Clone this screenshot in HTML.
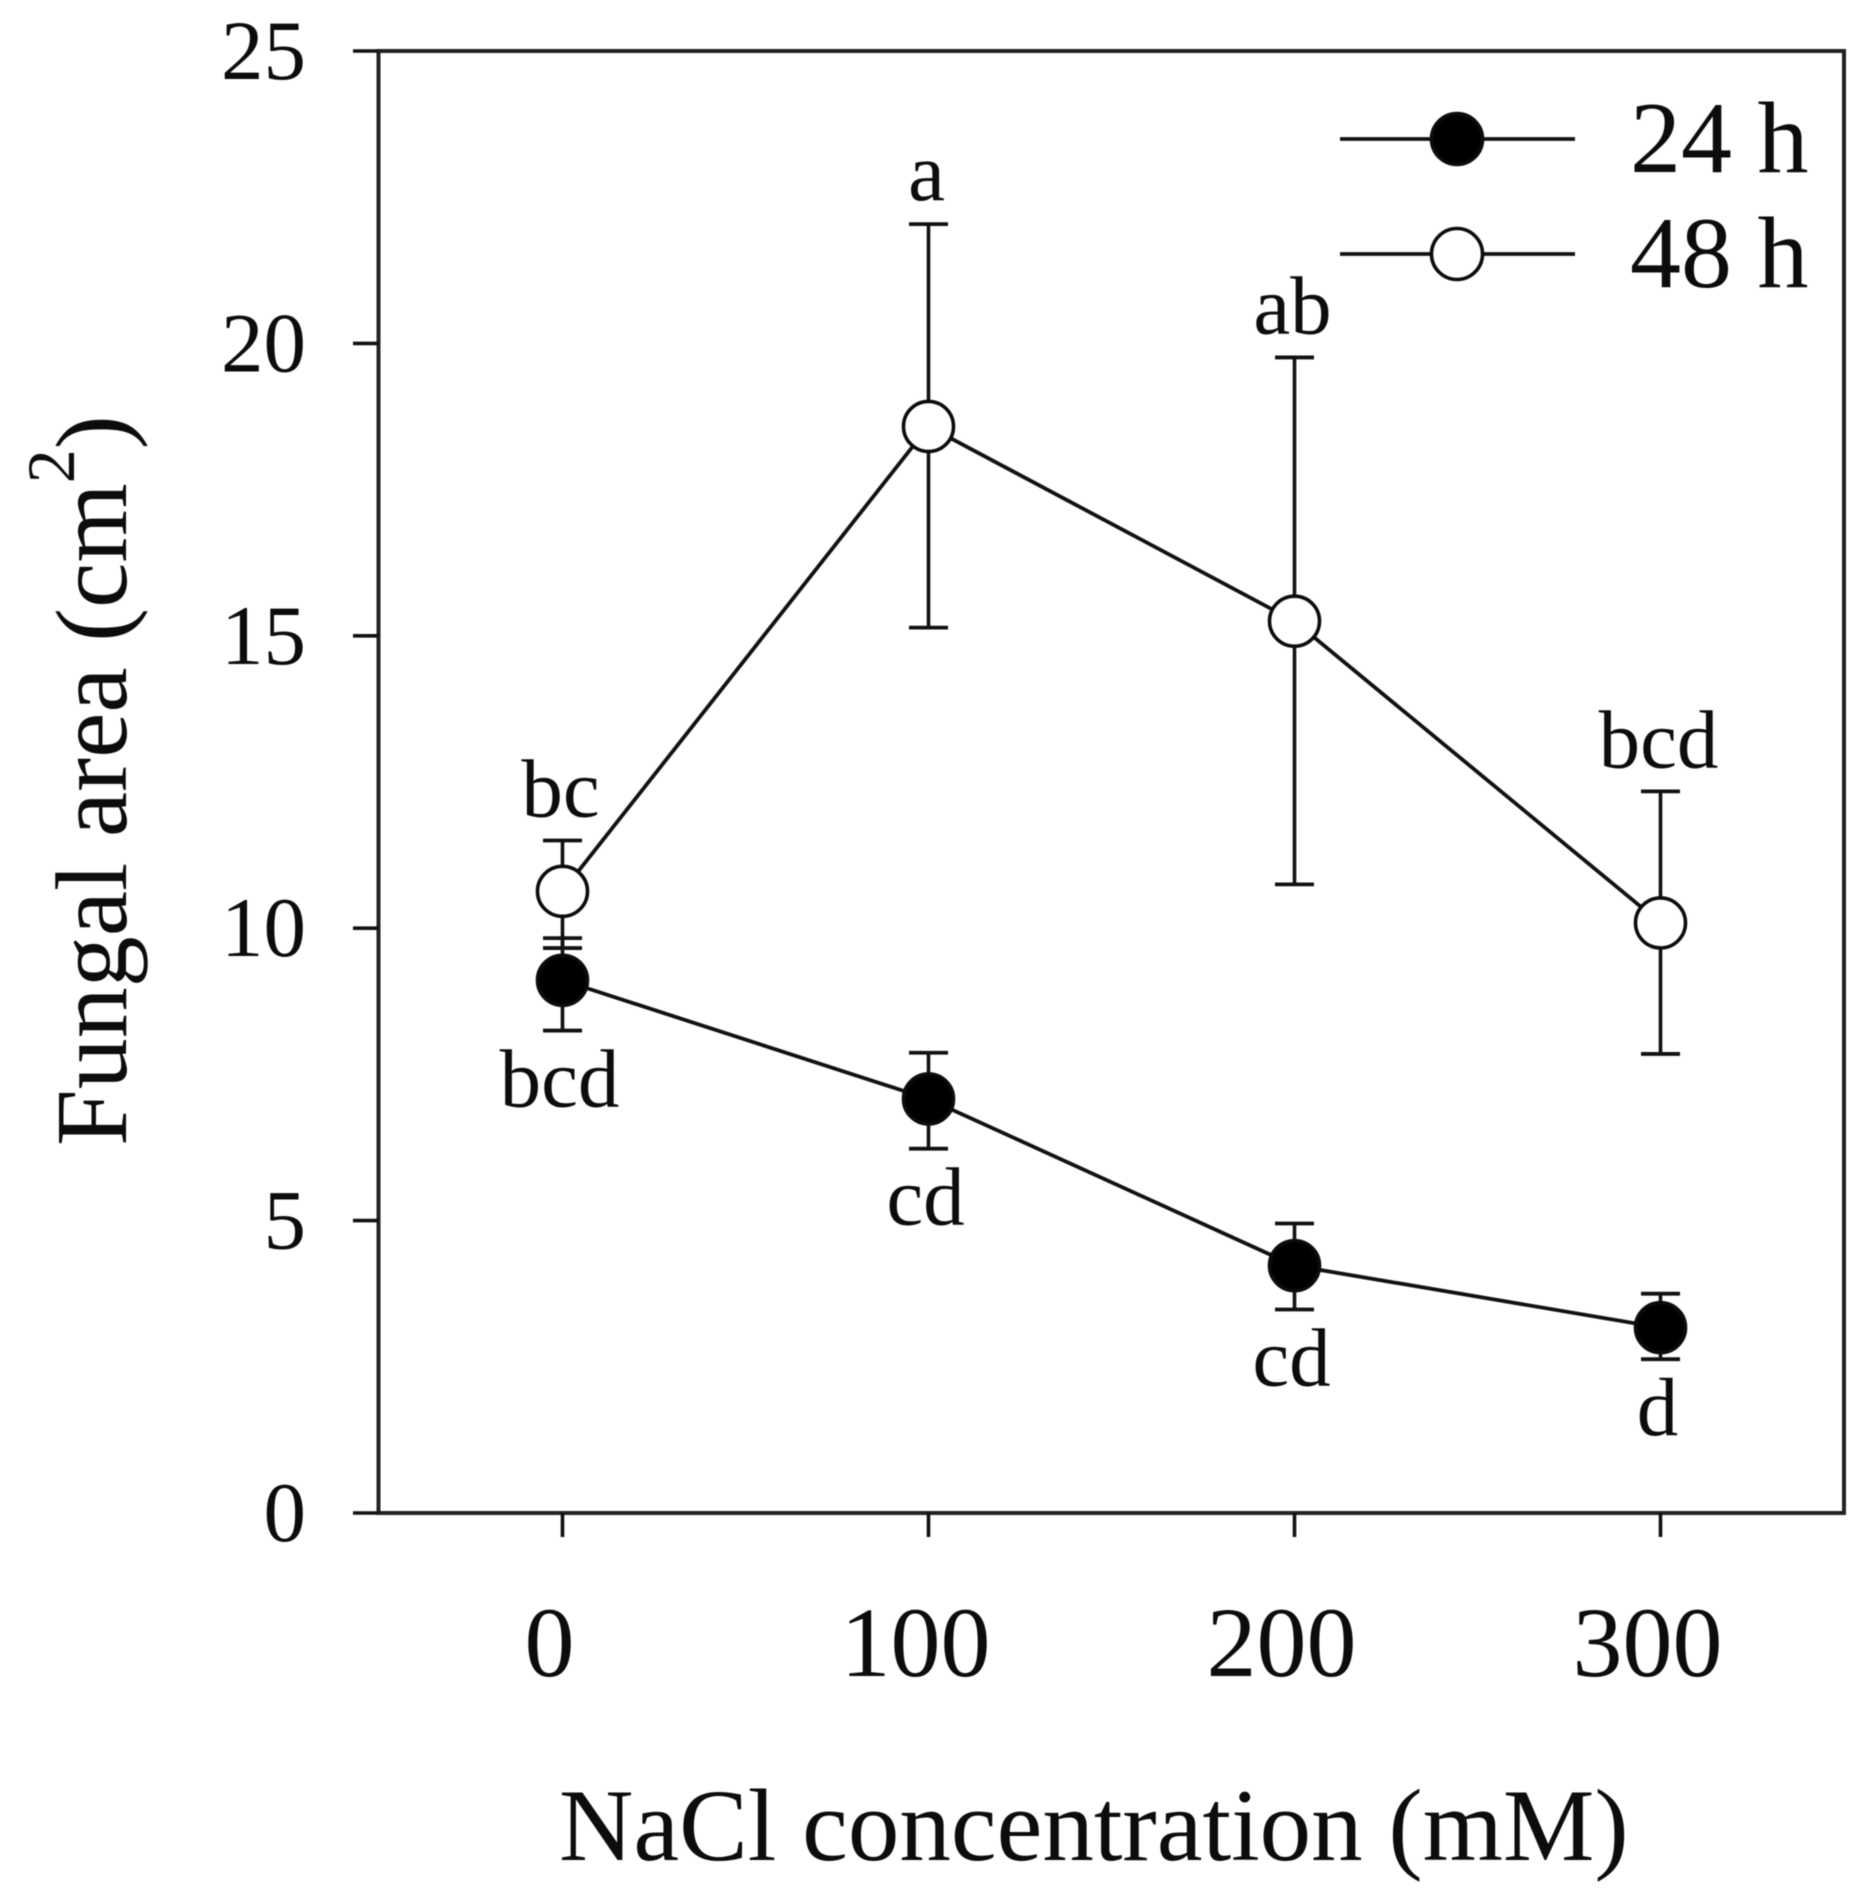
<!DOCTYPE html>
<html lang="en">
<head>
<meta charset="utf-8">
<title>Fungal area vs NaCl concentration</title>
<style>
  html, body { margin: 0; padding: 0; background: #fff; }
  body { width: 1876px; height: 1899px; overflow: hidden; }
  svg { display: block; filter: blur(0.5px); }
  text { font-family: "Liberation Serif", "Times New Roman", serif; fill: #0c0c0c; }
</style>
</head>
<body>
<svg id="chart" xmlns="http://www.w3.org/2000/svg" width="1876" height="1899" viewBox="0 0 1876 1899">
  <rect x="0" y="0" width="1876" height="1899" fill="#fff"/>
  <text x="559" y="1860" font-size="103">NaCl concentration (mM)</text>
  <text transform="translate(126 1146) rotate(-90)" font-size="102">Fungal area (cm<tspan font-size="68" dy="-52">2</tspan><tspan dy="52">)</tspan></text>
</svg>
<script>
var categories = [0, 100, 200, 300];
var yTickLabels = [0, 5, 10, 15, 20, 25];
var seriesNames = ['24 h', '48 h'];

var mean24 = [9.11, 7.08, 4.23, 3.17];
var upper24 = [9.83, 7.87, 4.95, 3.75];
var lower24 = [8.25, 6.23, 3.48, 2.63];
var letters24 = ['bcd', 'cd', 'cd', 'd'];

var mean48 = [10.63, 18.58, 15.25, 10.09];
var upper48 = [11.50, 22.04, 19.76, 12.34];
var lower48 = [9.66, 15.14, 10.75, 7.85];
var letters48 = ['bc', 'a', 'ab', 'bcd'];

var plotLeft = 378.5, plotRight = 1844, plotTop = 51, plotBottom = 1513;
var ink = '#111';
var svg = document.getElementById('chart');

function xScale(v) { return 562.5 + v * (1660.5 - 562.5) / 300; }
function yScale(v) { return plotBottom - v * (plotBottom - plotTop) / 25; }

function make(tag, attrs, parent) {
  var el = document.createElementNS('http://www.w3.org/2000/svg', tag);
  for (var k in attrs) el.setAttribute(k, attrs[k]);
  (parent || svg).appendChild(el);
  return el;
}

function seg(x1, y1, x2, y2, w, parent) {
  return make('line', { x1: x1, y1: y1, x2: x2, y2: y2, stroke: ink, 'stroke-width': w }, parent);
}

/* plot frame */
var frame = make('rect', { x: plotLeft, y: plotTop, width: plotRight - plotLeft, height: plotBottom - plotTop, fill: 'none', stroke: '#222', 'stroke-width': 4 });



/* y axis ticks and labels */
yTickLabels.forEach(function (v) {
  var tick = seg(353, yScale(v), plotLeft, yScale(v), 3.6);
  
  
  var label = make('text', { x: 306, y: yScale(v) + 28, 'text-anchor': 'end', 'font-size': 85 });
  label.textContent = v;
  
  
});

/* x axis ticks and labels */
categories.forEach(function (c) {
  var tick = seg(xScale(c), plotBottom, xScale(c), plotBottom + 24, 3.6);
  
  
  var label = make('text', { x: xScale(c) - 13, y: 1676, 'text-anchor': 'middle', 'font-size': 100 });
  label.textContent = c;
  
  
});

function drawSeries(name, means, uppers, lowers, fill) {
  var group = make('g', {});
  
  

  var pts = categories.map(function (c, i) { return xScale(c) + ',' + yScale(means[i]); }).join(' ');
  var line = make('polyline', { points: pts, fill: 'none', stroke: ink, 'stroke-width': 3.8 }, group);
  
  

  categories.forEach(function (c, i) {
    var x = xScale(c);
    var stem = seg(x, yScale(uppers[i]), x, yScale(lowers[i]), 3.6, group);
    
    
    var capTop = seg(x - 19.5, yScale(uppers[i]), x + 19.5, yScale(uppers[i]), 3.8, group);
    
    
    var capBottom = seg(x - 19.5, yScale(lowers[i]), x + 19.5, yScale(lowers[i]), 3.8, group);
    
    
  });

  categories.forEach(function (c, i) {
    var dot = make('circle', { cx: xScale(c), cy: yScale(means[i]), r: 25, fill: fill, stroke: '#0c0c0c', 'stroke-width': 3.6 }, group);
    
    
  });
}

drawSeries('48h', mean48, upper48, lower48, '#fff');
drawSeries('24h', mean24, upper24, lower24, '#000');

/* significance letters */
categories.forEach(function (c, i) {
  var above = make('text', { x: xScale(c) - 2, y: yScale(upper48[i]) - 24, 'text-anchor': 'middle', 'font-size': 83 });
  above.textContent = letters48[i];
  
  
  var below = make('text', { x: xScale(c) - 3, y: yScale(lower24[i]) + 76, 'text-anchor': 'middle', 'font-size': 83 });
  below.textContent = letters24[i];
  
  
});

/* legend */
var legend = make('g', {});


seriesNames.forEach(function (name, i) {
  var rowY = 139 + i * 115;
  var entry = make('g', {}, legend);
  
  
  var sample = seg(1340, rowY, 1575, rowY, 3.8, entry);
  
  
  var marker = make('circle', { cx: 1457, cy: rowY, r: 25.5, fill: i === 0 ? '#000' : '#fff', stroke: '#0c0c0c', 'stroke-width': 3.6 }, entry);
  
  
  var label = make('text', { x: 1630, y: rowY + 33, 'font-size': 102 }, entry);
  label.textContent = name;
  
  
});
</script>
</body>
</html>
